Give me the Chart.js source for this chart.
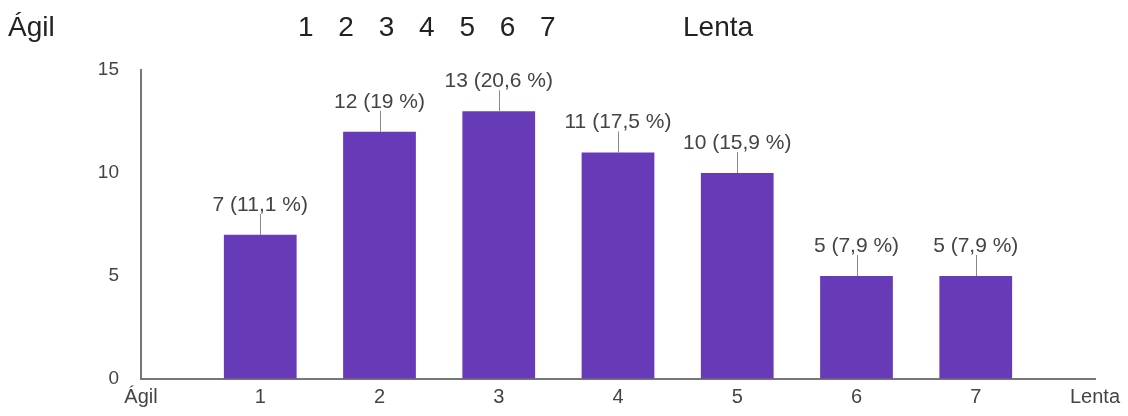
<!DOCTYPE html>
<html>
<head>
<meta charset="utf-8">
<script src="https://cdn.jsdelivr.net/npm/chart.js@4"></script>
<style>
  body { margin: 0; background: #fff; }
  #wrap { position: relative; width: 1128px; height: 416px; }
  .hdr { position: absolute; top: 11px; font: 28px "Liberation Sans", Arial, sans-serif; color: #222; }
  canvas { position: absolute; left: 0; top: 0; }
</style>
</head>
<body>
<div id="wrap">
  <canvas id="escala" width="1128" height="416"></canvas>
  <div class="hdr" style="left:8px">Ágil</div>
  <div class="hdr" style="left:298px; word-spacing:17px">1 2 3 4 5 6 7</div>
  <div class="hdr" style="left:683px">Lenta</div>
</div>
<script>
var chart1 = document.getElementById("escala");

// data
let categorias = ['Ágil', '1', '2', '3', '4', '5', '6', '7', 'Lenta'];
let respuestas = [null, 7, 12, 13, 11, 10, 5, 5, null];
let porcentajes = [null, '11,1', '19', '20,6', '17,5', '15,9', '7,9', '7,9', null];
let yTicks = [0, 5, 10, 15];

// labels on top of the bars, with a little stem
const etiquetas = {
    id: 'etiquetas',
    afterDatasetsDraw(chart) {
        const ctx = chart.ctx;
        const meta = chart.getDatasetMeta(0);
        ctx.save();
        meta.data.forEach((bar, i) => {
            if (respuestas[i] == null) return;
            ctx.strokeStyle = '#888';
            ctx.lineWidth = 1;
            ctx.beginPath();
            ctx.moveTo(Math.round(bar.x) + 0.5, bar.y);
            ctx.lineTo(Math.round(bar.x) + 0.5, bar.y - 21);
            ctx.stroke();
            ctx.fillStyle = '#444';
            ctx.font = '21px "Liberation Sans", Arial, sans-serif';
            ctx.textAlign = 'center';
            ctx.textBaseline = 'alphabetic';
            ctx.fillText(respuestas[i] + ' (' + porcentajes[i] + ' %)', bar.x, bar.y - 24);
        });
        ctx.restore();
    }
};

var myChart1 = new Chart(chart1, {
    type: 'bar',
    data: {
        labels: categorias,
        datasets: [{
            data: respuestas,
            backgroundColor: "#673ab7",
            borderWidth: 0,
            categoryPercentage: 0.61,
            barPercentage: 1
        }]
    },
    options: {
        responsive: false,
        animation: false,
        layout: {
            padding: { top: 70, right: 33, bottom: 0, left: 0 }
        },
        plugins: {
            legend: { display: false },
            tooltip: { enabled: false }
        },
        scales: {
            x: {
                offset: false,
                grid: { display: true, drawOnChartArea: false, drawTicks: false },
                border: { display: true, color: '#777', width: 2 },
                ticks: {
                    color: '#444',
                    font: { family: '"Liberation Sans", Arial, sans-serif', size: 20 },
                    autoSkip: false,
                    maxRotation: 0,
                    padding: 6
                },
                afterFit: (scale) => { scale.height = 37; }
            },
            y: {
                min: 0,
                max: 15,
                grid: { display: true, drawOnChartArea: false, drawTicks: false },
                border: { display: true, color: '#777', width: 2 },
                ticks: {
                    stepSize: 5,
                    color: '#444',
                    font: { family: '"Liberation Sans", Arial, sans-serif', size: 19 },
                    padding: 22
                },
                afterBuildTicks: (scale) => { scale.ticks = yTicks.map(v => ({ value: v })); },
                afterFit: (scale) => { scale.width = 141; }
            }
        }
    },
    plugins: [etiquetas]
});
</script>
</body>
</html>
